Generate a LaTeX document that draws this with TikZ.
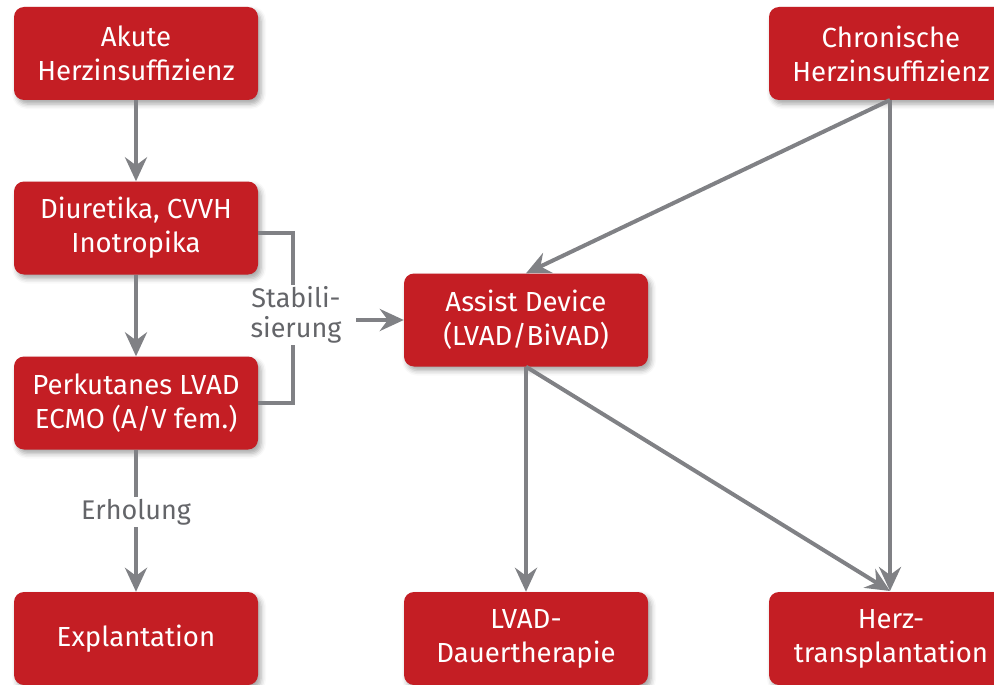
\documentclass[tikz,border=0pt]{standalone}
\usepackage{fontspec}
\setmainfont{Fira Sans}
\usetikzlibrary{arrows.meta,shadows.blur}
\definecolor{boxred}{RGB}{196,30,36}
\definecolor{arrgray}{RGB}{128,129,133}
\definecolor{txtgray}{RGB}{100,101,105}
\begin{document}
\begin{tikzpicture}[x=1pt,y=1pt,
  box/.style={fill=boxred, rounded corners=10pt, minimum width=244pt, minimum height=93pt,
    text=white, align=center, font=\fontsize{27.6}{34}\selectfont, inner sep=0pt,
    blur shadow={shadow xshift=3pt, shadow yshift=-4pt, shadow blur radius=5pt, shadow opacity=35}},
  arr/.style={draw=arrgray, line width=4pt, -{Stealth[length=24pt,width=22pt,inset=8pt]}},
  bline/.style={draw=arrgray, line width=4pt},
  lbl/.style={text=txtgray, font=\fontsize{27}{30}\selectfont, align=center, fill=white, inner sep=2pt}
]
\useasboundingbox (0,0) rectangle (994,-685);
\node[box] (akut) at (136,-53.5) {Akute\\Herzinsuffizienz};
\node[box] (diur) at (136,-228) {Diuretika, CVVH\\Inotropika};
\node[box] (perk) at (136,-403) {Perkutanes LVAD\\ECMO (A/V fem.)};
\node[box] (expl) at (136,-638.5) {Explantation};
\node[box] (assist) at (526,-320) {Assist Device\\(LVAD/BiVAD)};
\node[box] (lvad) at (526,-638.5) {LVAD-\\Dauertherapie};
\node[box] (chron) at (891,-53.5) {Chronische\\Herzinsuffizienz};
\node[box] (herz) at (891,-638.5) {Herz-\\transplantation};

\coordinate (bt) at (293,-233);
\coordinate (bb) at (293,-403);
\draw[bline] (diur.east |- bt) -- (bt) -- (bb) -- (perk.east |- bb);
\node[lbl] (stab) at (296,-315) {Stabili-\\sierung};
\draw[arr] (356,-320) coordinate (sa) -- (assist.west);

\draw[arr] (akut) -- (diur);
\draw[arr] (diur) -- (perk);
\draw[arr] (perk) -- (expl) node[lbl, midway, yshift=9pt] (erh) {Erholung};

\coordinate (cb) at (890,-100);
\draw[arr] (cb) -- (assist.north);
\draw[arr] (cb) -- (890,-591) coordinate (ht);
\draw[arr] (assist) -- (lvad);
\draw[arr] (assist.south) -- (ht);
\end{tikzpicture}
\end{document}
